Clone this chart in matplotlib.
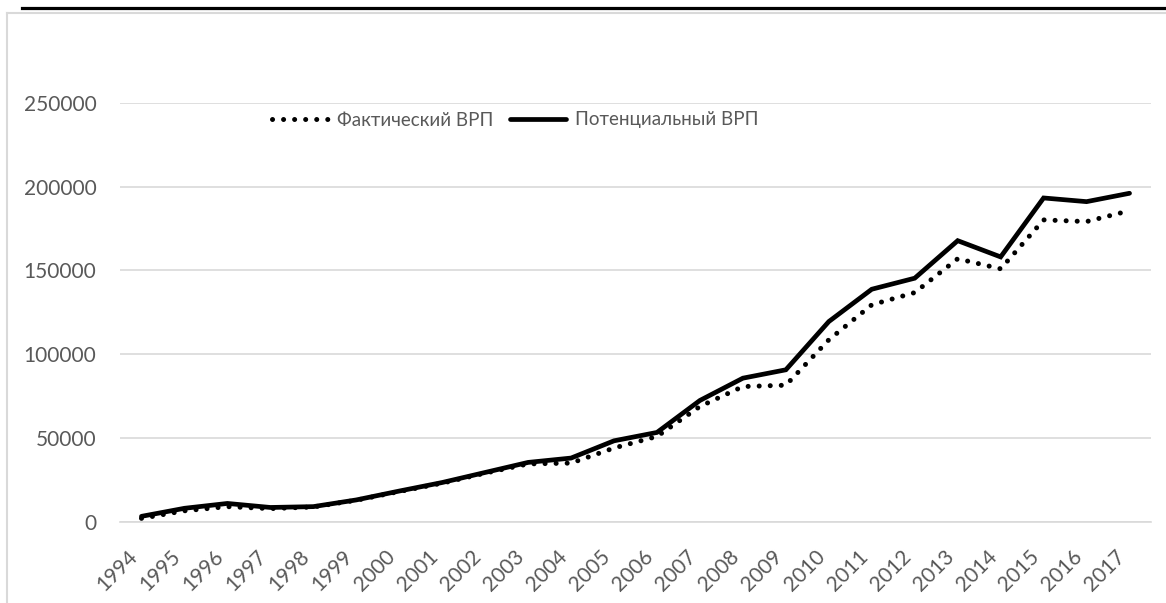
import matplotlib
matplotlib.use("Agg")
import matplotlib.pyplot as plt
from matplotlib.lines import Line2D
import matplotlib.transforms as mtransforms

plt.rcParams['font.family'] = ['Lato', 'Open Sans', 'DejaVu Sans']

years = [str(y) for y in range(1994, 2018)]
actual_grp = [2000, 6500, 9000, 7800, 8800, 12800, 18000, 23000, 29000, 34500,
              35000, 44000, 50900, 68800, 80700, 81500, 108600, 129500, 136800,
              157000, 151000, 180200, 179200, 185700]
potential_grp = [3200, 8000, 10900, 8500, 9000, 13000, 18300, 23400, 29400, 35400,
                 38000, 48300, 53300, 72400, 85700, 90700, 119500, 138800, 145400,
                 167800, 158100, 193300, 191100, 196100]
y_ticks = [0, 50000, 100000, 150000, 200000, 250000]
label_actual = "Фактический ВРП"
label_potential = "Потенциальный ВРП"

W, H = 1166, 603
fig = plt.figure(figsize=(W / 100, H / 100), dpi=100)
fig.patch.set_facecolor('white')

left, right, top, bottom = 120, 1151, 103, 521.7
ax = fig.add_axes([left / W, 1 - bottom / H, (right - left) / W, (bottom - top) / H])

x = list(range(len(years)))
ax.plot(x, actual_grp, color='black', lw=3.6,
        linestyle=(0, (0.01, 2.2)), dash_capstyle='round', label=label_actual, zorder=3)
ax.plot(x, potential_grp, color='black', lw=3.4, solid_capstyle='round',
        solid_joinstyle='miter', label=label_potential, zorder=4)

ax.set_xlim(-0.5, len(years) - 0.5)
ax.set_ylim(0, 250000)
ax.set_yticks(y_ticks)
ax.set_yticklabels([str(v) for v in y_ticks])
ax.set_xticks(x)
ax.set_xticklabels(years, rotation=45, ha='right', va='top')
offset = mtransforms.ScaledTranslation(4 / 100, 0, fig.dpi_scale_trans)
for lab in ax.get_xticklabels():
    lab.set_transform(lab.get_transform() + offset)

ax.grid(axis='y', color='#d9d9d9', lw=1.2)
ax.set_axisbelow(True)
for s in ['top', 'right', 'left']:
    ax.spines[s].set_visible(False)
ax.spines['bottom'].set_color('#d9d9d9')
ax.spines['bottom'].set_linewidth(1.2)
ax.tick_params(axis='both', length=0, labelsize=15, colors='#595959')
ax.tick_params(axis='y', pad=17)
ax.tick_params(axis='x', pad=18)

leg = fig.legend(loc='center', bbox_to_anchor=(515 / W, 1 - 120 / H), ncol=2,
                 frameon=False, fontsize=13.5, handlelength=3.0, handletextpad=0.45,
                 columnspacing=0.9)
for t in leg.get_texts():
    t.set_color('#595959')

# chart area border and top rule
fig.add_artist(Line2D([7 / W, 7 / W], [0, 1 - 13 / H], color='#d9d9d9', lw=1.5,
                      transform=fig.transFigure))
fig.add_artist(Line2D([7 / W, 1], [1 - 13 / H, 1 - 13 / H], color='#d9d9d9', lw=1.5,
                      transform=fig.transFigure))
fig.add_artist(Line2D([22 / W, 1], [1 - 8 / H, 1 - 8 / H], color='black', lw=2.3,
                      transform=fig.transFigure))

fig.savefig('out.png', dpi=100)
